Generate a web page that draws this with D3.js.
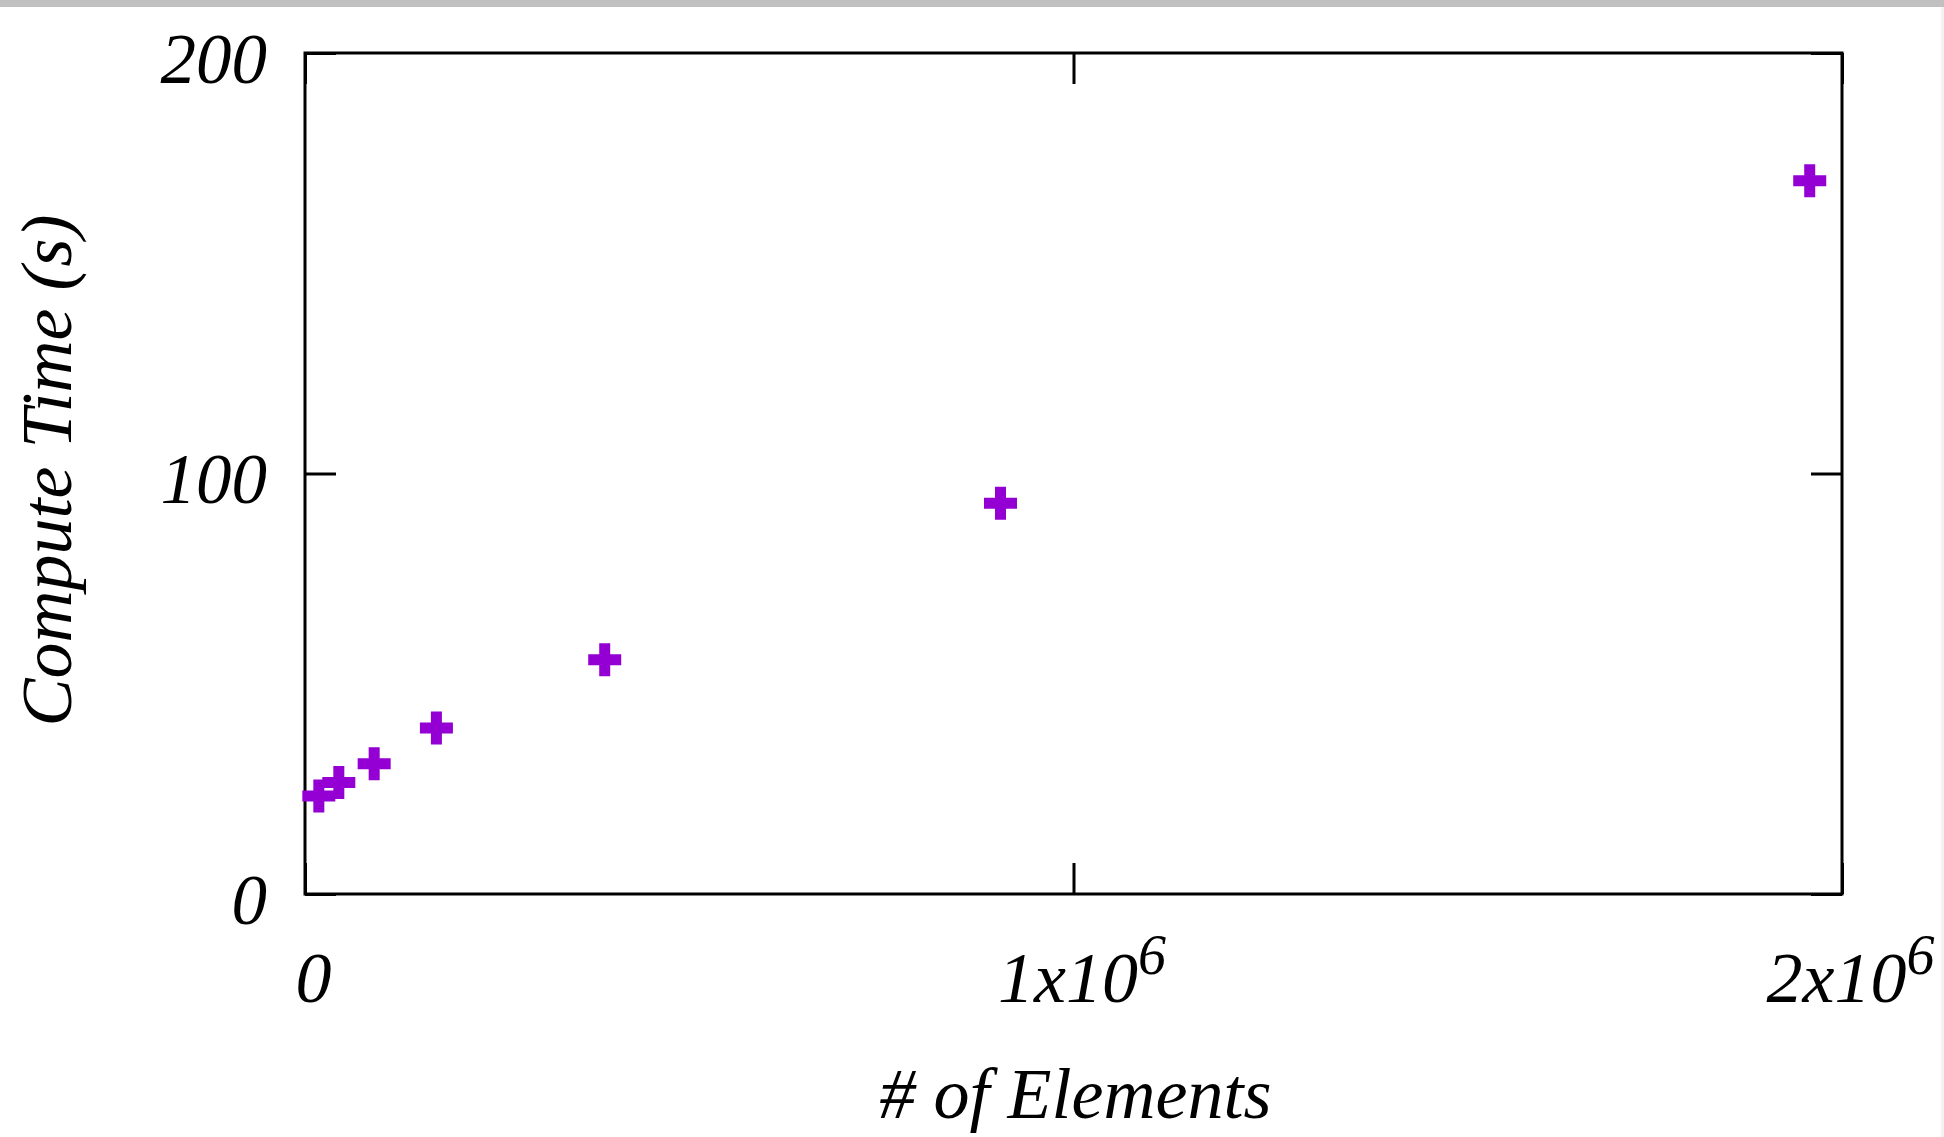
<!DOCTYPE html>
<html>
<head>
<meta charset="utf-8">
<script src="https://cdn.jsdelivr.net/npm/d3@7"></script>
<style>
  html, body { margin: 0; padding: 0; background: #fff; }
  svg { display: block; }
  text { font-family: "Liberation Serif", serif; font-style: italic; fill: #000; }
</style>
</head>
<body>
<div id="chart"></div>
<script>
// data
const elements = [18000, 44000, 90000, 171000, 390000, 905000, 1958000];
const computeTime = [23.3, 26.5, 31.0, 39.5, 55.7, 92.9, 169.6];
const xTicks = [0, 1e6, 2e6];
const xTickLabels = [["0", ""], ["1x10", "6"], ["2x10", "6"]];
const yTicks = [0, 100, 200];

const width = 1944;
const height = 1137;
const marginTop = 53;
const marginRight = 102;
const marginBottom = 243;
const marginLeft = 305;
const tickLen = 31;

const svg = d3.select("#chart").append("svg")
    .attr("width", width)
    .attr("height", height);

// grey strip at top of the screenshot
svg.append("rect")
    .attr("x", 0).attr("y", 0)
    .attr("width", width).attr("height", 7)
    .attr("fill", "#c0c0c0");
svg.append("rect")
    .attr("x", width - 3).attr("y", 7)
    .attr("width", 3).attr("height", height - 7)
    .attr("fill", "#f2f2f2");

const x = d3.scaleLinear()
    .domain([0, 2e6])
    .range([marginLeft, width - marginRight]);

const y = d3.scaleLinear()
    .domain([0, 200])
    .range([height - marginBottom, marginTop]);

// bottom axis with inward ticks
svg.append("g")
    .attr("transform", `translate(0,${height - marginBottom})`)
    .call(d3.axisBottom(x)
        .tickValues(xTicks)
        .tickSizeInner(-tickLen)
        .tickSizeOuter(0)
        .tickFormat(""))
    .call(g => g.select(".domain").remove())
    .call(g => g.selectAll(".tick line").attr("stroke", "#000").attr("stroke-width", 3))
    .call(g => g.selectAll(".tick text").each(function(d, i) {
        const t = d3.select(this)
            .attr("x", 8)
            .attr("y", 108)
            .attr("dy", null)
            .attr("font-size", 72)
            .attr("text-anchor", "middle");
        t.text(null);
        t.append("tspan").text(xTickLabels[i][0]);
        if (xTickLabels[i][1]) {
            t.append("tspan")
                .attr("dy", -28)
                .attr("font-size", 56)
                .text(xTickLabels[i][1]);
        }
    }));

// top mirror ticks
svg.append("g")
    .attr("transform", `translate(0,${marginTop})`)
    .call(d3.axisTop(x).tickValues(xTicks).tickSizeInner(-tickLen).tickSizeOuter(0).tickFormat(""))
    .call(g => g.select(".domain").remove())
    .call(g => g.selectAll(".tick line").attr("stroke", "#000").attr("stroke-width", 3));

// left axis
svg.append("g")
    .attr("transform", `translate(${marginLeft},0)`)
    .call(d3.axisLeft(y)
        .tickValues(yTicks)
        .tickSizeInner(-tickLen)
        .tickSizeOuter(0)
        .tickPadding(38)
        .tickFormat(d3.format("d")))
    .call(g => g.select(".domain").remove())
    .call(g => g.selectAll(".tick line").attr("stroke", "#000").attr("stroke-width", 3))
    .call(g => g.selectAll(".tick text")
        .attr("font-size", 71)
        .attr("font-family", "Liberation Serif")
        .attr("dy", "0.41em"));

// right mirror ticks
svg.append("g")
    .attr("transform", `translate(${width - marginRight},0)`)
    .call(d3.axisRight(y).tickValues(yTicks).tickSizeInner(-tickLen).tickSizeOuter(0).tickFormat(""))
    .call(g => g.select(".domain").remove())
    .call(g => g.selectAll(".tick line").attr("stroke", "#000").attr("stroke-width", 3));

// frame
svg.append("rect")
    .attr("x", x(0))
    .attr("y", y(200))
    .attr("width", x(2e6) - x(0))
    .attr("height", y(0) - y(200))
    .attr("fill", "none")
    .attr("stroke", "#000")
    .attr("stroke-width", 3);

// points
svg.append("g")
    .attr("fill", "#9400d3")
  .selectAll("path")
  .data(elements)
  .join("path")
    .attr("transform", (d, i) => `translate(${x(d)},${y(computeTime[i])})`)
    .attr("d", d3.symbol(d3.symbolCross, 605));

// axis titles
svg.append("text")
    .attr("x", (x(0) + x(2e6)) / 2 + 2)
    .attr("y", 1118)
    .attr("text-anchor", "middle")
    .attr("font-size", 72)
    .text("# of Elements");

svg.append("text")
    .attr("transform", `translate(71,${(y(0) + y(200)) / 2 - 3}) rotate(-90)`)
    .attr("text-anchor", "middle")
    .attr("font-size", 72)
    .text("Compute Time (s)");
</script>
</body>
</html>
